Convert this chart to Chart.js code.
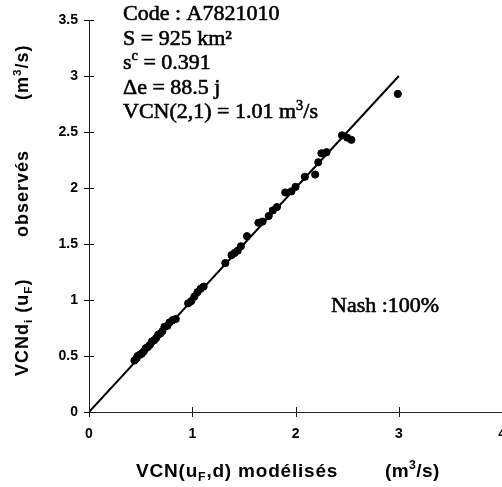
<!DOCTYPE html>
<html>
<head>
<meta charset="utf-8">
<script src="https://cdn.jsdelivr.net/npm/chart.js@4.4.0/dist/chart.umd.min.js"></script>
<style>
  html, body { margin: 0; padding: 0; background: #fff; overflow: hidden; }
</style>
</head>
<body>
<canvas id="vcnChart" width="520" height="487"></canvas>
<script>
// VCN modelled (x) vs VCN observed (y), m3/s
const modelled = [0.44, 0.46, 0.47, 0.49, 0.51, 0.53, 0.55, 0.57, 0.59, 0.61, 0.63, 0.65, 0.67, 0.69,
                  0.71, 0.73, 0.76, 0.78, 0.81, 0.84, 0.96, 0.99, 1.02, 1.05, 1.08, 1.11, 1.32, 1.38,
                  1.41, 1.44, 1.47, 1.53, 1.64, 1.68, 1.74, 1.78, 1.82, 1.90, 1.96, 2.00, 2.09, 2.19,
                  2.22, 2.25, 2.30, 2.45, 2.50, 2.54, 2.99];
const observed = [0.46, 0.48, 0.50, 0.51, 0.52, 0.54, 0.57, 0.58, 0.60, 0.63, 0.64, 0.66, 0.69, 0.70,
                  0.72, 0.76, 0.77, 0.80, 0.82, 0.83, 0.97, 0.99, 1.03, 1.07, 1.10, 1.12, 1.33, 1.40,
                  1.42, 1.44, 1.48, 1.57, 1.69, 1.70, 1.75, 1.80, 1.83, 1.96, 1.97, 2.01, 2.10, 2.12,
                  2.23, 2.31, 2.32, 2.47, 2.45, 2.43, 2.84];
// 1:1 line
const lineX = [0, 3];
const lineY = [0, 3];
const xTicks = [0, 1, 2, 3, 4];
const yTicks = [0, 0.5, 1, 1.5, 2, 2.5, 3, 3.5];
const infoLines = ['Code : A7821010', 'S = 925 km²', 's^{c} = 0.391', 'Δe = 88.5 j', 'VCN(2,1) = 1.01 m^{3}/s'];
const nashText = 'Nash :100%';
const xTitle = ['VCN(u_{F},d) modélisés', '(m^{3}/s)'];
const yTitle = ['VCNd_{i} (u_{F})', 'observés', '(m^{3}/s)'];

const SANS = '"Liberation Sans", Arial, sans-serif';
const SERIF = '"Liberation Serif", "Times New Roman", serif';

// split "a_{b}c^{d}" into runs
function runs(text) {
    const out = [];
    const re = /([_^])\{([^}]*)\}/g;
    let last = 0, m;
    while ((m = re.exec(text))) {
        if (m.index > last) out.push({ t: text.slice(last, m.index), k: '' });
        out.push({ t: m[2], k: m[1] });
        last = re.lastIndex;
    }
    if (last < text.length) out.push({ t: text.slice(last), k: '' });
    return out;
}

function drawRich(ctx, text, x, y, size, family, weight, spacing, stroke) {
    let cx = x;
    for (const r of runs(text)) {
        const s = r.k ? size * 0.65 : size;
        const dy = r.k === '^' ? -size * 0.4 : (r.k === '_' ? size * 0.2 : 0);
        ctx.font = weight + ' ' + s + 'px ' + family;
        ctx.letterSpacing = spacing + 'px';
        ctx.fillText(r.t, cx, y + dy);
        if (stroke) {
            ctx.lineWidth = stroke;
            ctx.strokeText(r.t, cx, y + dy);
        }
        cx += ctx.measureText(r.t).width;
    }
    return cx - x;
}

const decor = {
    id: 'decor',
    afterDraw(chart) {
        const ctx = chart.ctx;
        const xs = chart.scales.x, ys = chart.scales.y;
        const area = chart.chartArea;
        ctx.save();
        // cross tick marks
        ctx.strokeStyle = '#111';
        ctx.lineWidth = 1;
        ctx.beginPath();
        yTicks.forEach(v => {
            const py = Math.round(ys.getPixelForValue(v)) + 0.5;
            ctx.moveTo(area.left - 5, py);
            ctx.lineTo(area.left + 5, py);
        });
        xTicks.forEach(v => {
            const px = Math.round(xs.getPixelForValue(v)) + 0.5;
            ctx.moveTo(px, area.bottom - 5);
            ctx.lineTo(px, area.bottom + 5);
        });
        ctx.stroke();

        ctx.fillStyle = '#000';
        ctx.strokeStyle = '#000';
        ctx.textBaseline = 'alphabetic';
        ctx.textAlign = 'left';
        // info block
        infoLines.forEach((t, i) => {
            drawRich(ctx, t, 123, 20 + i * 24.6, 22, SERIF, 'normal', 0, 0.6);
        });
        drawRich(ctx, nashText, 331, 312, 22, SERIF, 'normal', 0, 0.6);

        // x title
        drawRich(ctx, xTitle[0], 136, 477, 19, SANS, 'bold', 0.8);
        drawRich(ctx, xTitle[1], 385, 477, 19, SANS, 'bold', 0.4);

        // y title, rotated, reading bottom to top
        ctx.translate(28, 0);
        ctx.rotate(-Math.PI / 2);
        drawRich(ctx, yTitle[0], -376, 0, 18, SANS, 'bold', 1);
        drawRich(ctx, yTitle[1], -237, 0, 18, SANS, 'bold', 1);
        drawRich(ctx, yTitle[2], -100, 0, 18, SANS, 'bold', 1);
        ctx.restore();
    }
};

const tickFont = { family: SANS, size: 14, weight: 'bold' };

new Chart(document.getElementById('vcnChart').getContext('2d'), {
    type: 'scatter',
    data: {
        datasets: [{
            data: modelled.map((x, i) => ({ x: x, y: observed[i] })),
            backgroundColor: '#000',
            borderColor: '#000',
            pointRadius: 3.6,
            pointHoverRadius: 3.6
        }, {
            type: 'line',
            data: lineX.map((x, i) => ({ x: x, y: lineY[i] })),
            borderColor: '#000',
            borderWidth: 2,
            pointRadius: 0,
            fill: false
        }]
    },
    options: {
        responsive: false,
        animation: false,
        events: [],
        layout: { padding: { top: 20, right: 16, left: 0, bottom: 0 } },
        plugins: { legend: { display: false }, tooltip: { enabled: false } },
        scales: {
            x: {
                type: 'linear',
                min: 0,
                max: 4,
                afterBuildTicks: s => { s.ticks = xTicks.map(v => ({ value: v })); },
                afterFit: s => { s.height = 75; },
                grid: { display: false, drawTicks: false },
                border: { color: '#222', width: 1 },
                ticks: { padding: 14, color: '#000', font: tickFont, callback: v => String(v) }
            },
            y: {
                type: 'linear',
                min: 0,
                max: 3.5,
                afterBuildTicks: s => { s.ticks = yTicks.map(v => ({ value: v })); },
                afterFit: s => { s.width = 89; },
                grid: { display: false, drawTicks: false },
                border: { color: '#222', width: 1 },
                ticks: { padding: 11, color: '#000', font: tickFont, callback: v => String(v) }
            }
        }
    },
    plugins: [decor]
});
</script>
</body>
</html>
